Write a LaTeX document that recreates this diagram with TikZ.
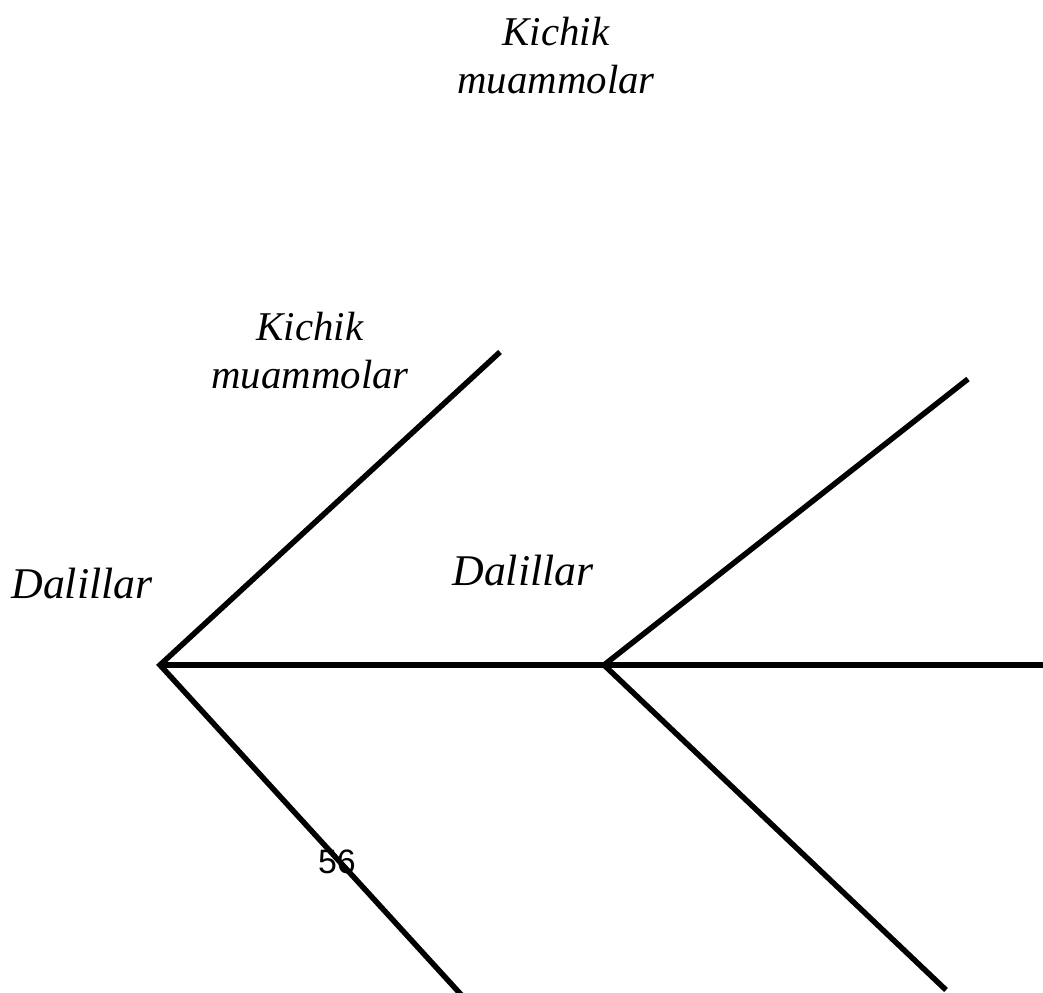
\documentclass[tikz,border=0pt]{standalone}
\usepackage{fontspec}
\setmainfont{Liberation Serif}
\newfontfamily\digitfont{Liberation Sans}
\begin{document}
\begin{tikzpicture}[x=1bp,y=-1bp,
  bone/.style={line width=5.5bp,black},
  lbl/.style={inner sep=0pt,anchor=base,align=center,font=\fontsize{41}{48}\selectfont\itshape},
  lblbig/.style={inner sep=0pt,anchor=base,font=\fontsize{44}{50}\selectfont\itshape},
  num/.style={inner sep=0pt,anchor=base,font=\fontsize{34}{40}\selectfont\digitfont}]
\useasboundingbox[fill=white] (0,0) rectangle (1043,993);
\coordinate (jl) at (160,665);
\coordinate (jr) at (604,665);
\coordinate (ul) at (500,352);
\coordinate (dl) at (466,1000);
\coordinate (ur) at (968,379);
\coordinate (dr) at (946,990);
\coordinate (tail) at (1046,665);
\draw[bone] (jl) -- (tail);
\draw[bone] (ul) -- (jl) -- (dl);
\draw[bone] (ur) -- (jr) -- (dr);
\node[lbl] (t1) at (556,93) {Kichik\\muammolar};
\node[lbl] (t2) at (310,388) {Kichik\\muammolar};
\node[lblbig] (d1) at (82,598) {Dalillar};
\node[lblbig] (d2) at (523,585) {Dalillar};
\node[num] (n56) at (337,873) {56};
\end{tikzpicture}
\end{document}
